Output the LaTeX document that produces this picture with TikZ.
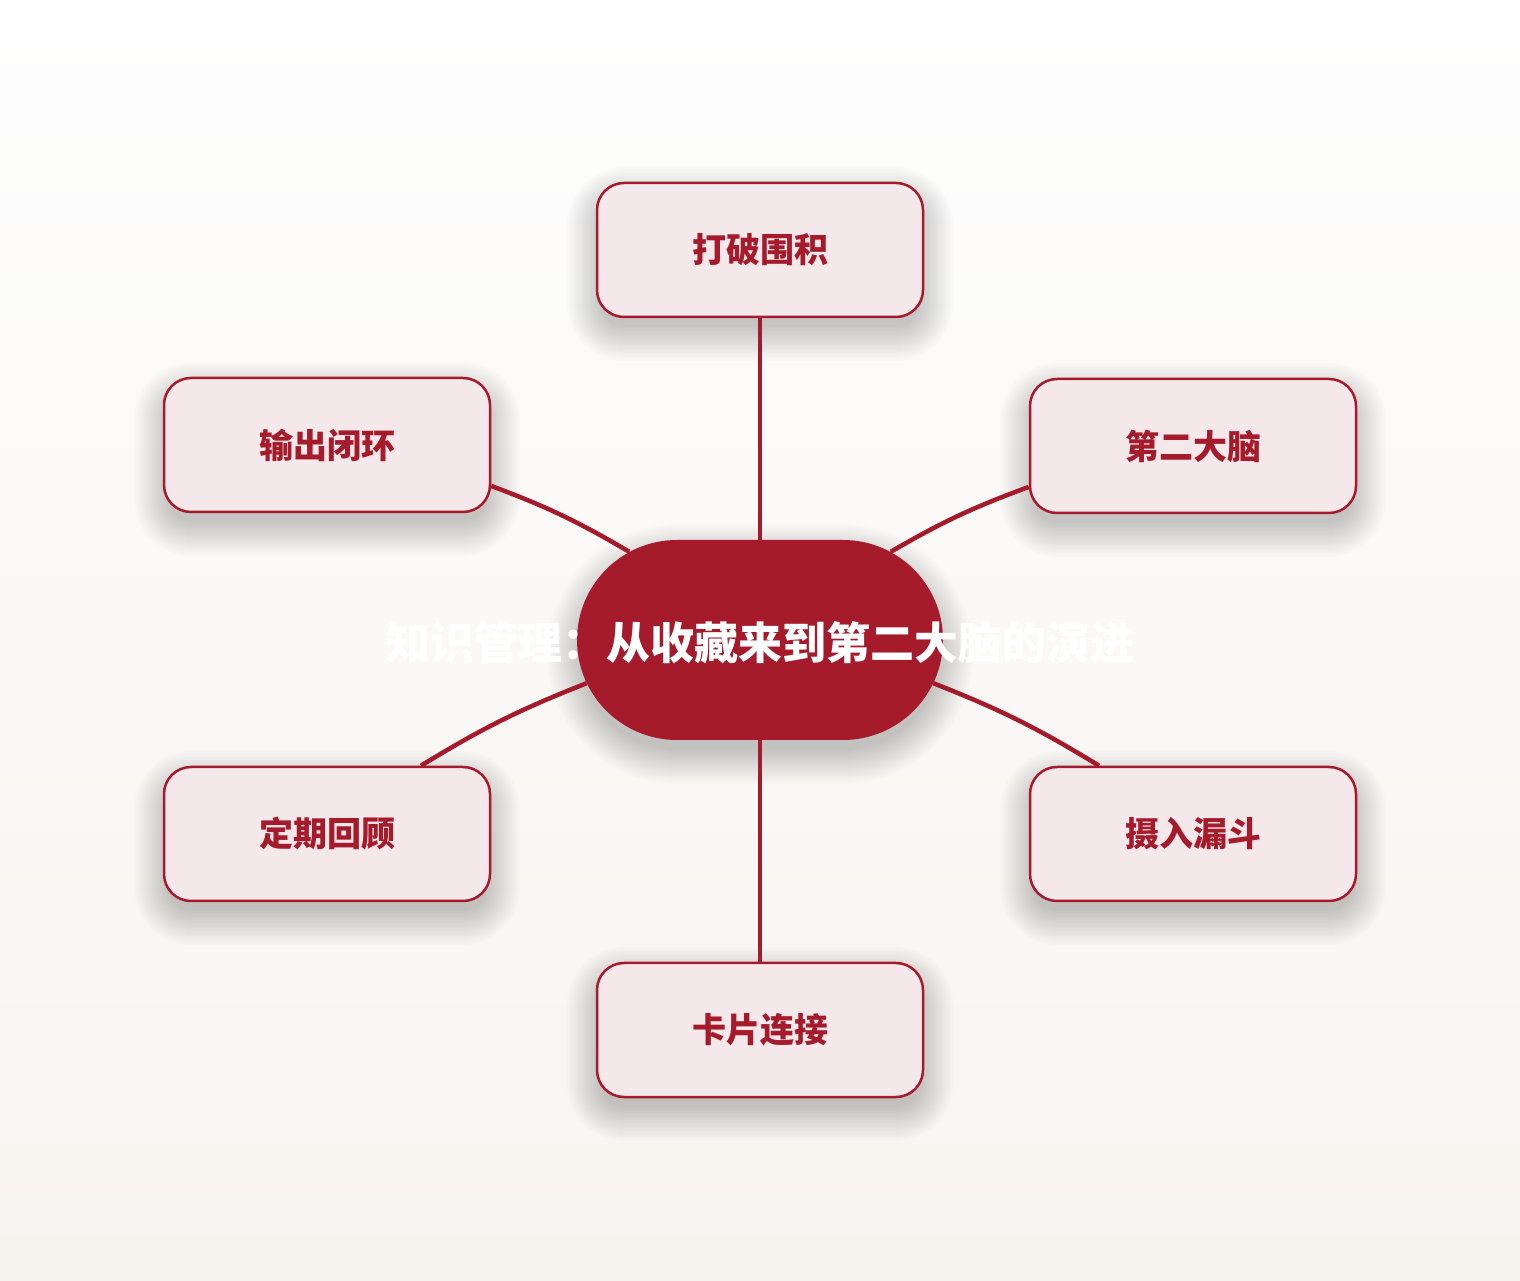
\documentclass[tikz,border=0pt]{standalone}
\usepackage{fontspec}
\newfontfamily\cjk{Noto Sans CJK SC}
\usetikzlibrary{shapes.misc}
\definecolor{crim}{HTML}{A51B2B}
\definecolor{pinkfill}{HTML}{F4E8EB}
\definecolor{bgtop}{HTML}{FEFEFE}
\definecolor{bgbot}{HTML}{F7F4F0}
\pgfdeclarelayer{bg}\pgfdeclarelayer{lines}
\pgfsetlayers{bg,lines,main}
\newcommand\softshadow[5]{%
  \foreach \k in {1,...,18}{%
    \pgfmathsetmacro\ee{2*\k-6}%
    \pgfmathsetmacro\rr{max(#5+\ee,2)}%
    \fill[black,opacity=0.011,rounded corners=\rr pt]
      ({#1-#3/2-\ee},{#2-#4/2-\ee-14}) rectangle ({#1+#3/2+\ee},{#2+#4/2+\ee-14});
  }}
\tikzset{
  box/.style={draw=crim, line width=2.5pt, fill=pinkfill, rounded corners=27pt,
    minimum width=326pt, minimum height=134pt, inner sep=0pt,
    font=\cjk\bfseries\fontsize{34}{40}\selectfont, text=crim},
  hub/.style={rounded rectangle, fill=crim, minimum width=366pt, minimum height=200pt, inner sep=0pt},
  hubtext/.style={font=\cjk\bfseries\fontsize{44}{50}\selectfont, text=white, inner sep=0pt},
  link/.style={draw=crim, line width=4.5pt},
}
\begin{document}
\begin{tikzpicture}[x=1pt,y=1pt]
\useasboundingbox (0,0) rectangle (1520,1280);
\begin{pgfonlayer}{bg}
  \shade[top color=bgtop, bottom color=bgbot] (0,0) rectangle (1520,1280);
  \softshadow{760}{1030}{326}{134}{27}
  \softshadow{1193}{834}{326}{134}{27}
  \softshadow{1193}{446}{326}{134}{27}
  \softshadow{760}{250}{326}{134}{27}
  \softshadow{327}{446}{326}{134}{27}
  \softshadow{327}{835}{326}{134}{27}
  \softshadow{760}{640}{366}{200}{100}
\end{pgfonlayer}
\node[box] (top) at (760,1030) {\raisebox{-3pt}{打破围积}};
\node[box] (ur) at (1193,834) {\raisebox{-3pt}{第二大脑}};
\node[box] (lr) at (1193,446) {\raisebox{-3pt}{摄入漏斗}};
\node[box] (bot) at (760,250) {\raisebox{-3pt}{卡片连接}};
\node[box] (ll) at (327,446) {\raisebox{-3pt}{定期回顾}};
\node[box] (ul) at (327,835) {\raisebox{-3pt}{输出闭环}};
\node[hub] (c) at (760,640) {};
\node[hubtext] (title) at ([yshift=-3pt]c.center) {知识管理：从收藏来到第二大脑的演进};
\begin{pgfonlayer}{lines}
  \draw[link] (top.south) -- (c.north);
  \draw[link] (c.south) -- (bot.north);
  \draw[link] (ul.-14) to[bend left=5] (c.146);
  \draw[link] (ur.194) to[bend right=5] (c.34);
  \draw[link] (ll.36) to[bend left=5] (c.194);
  \draw[link] (lr.144) to[bend right=5] (c.-14);
\end{pgfonlayer}
\end{tikzpicture}
\end{document}
